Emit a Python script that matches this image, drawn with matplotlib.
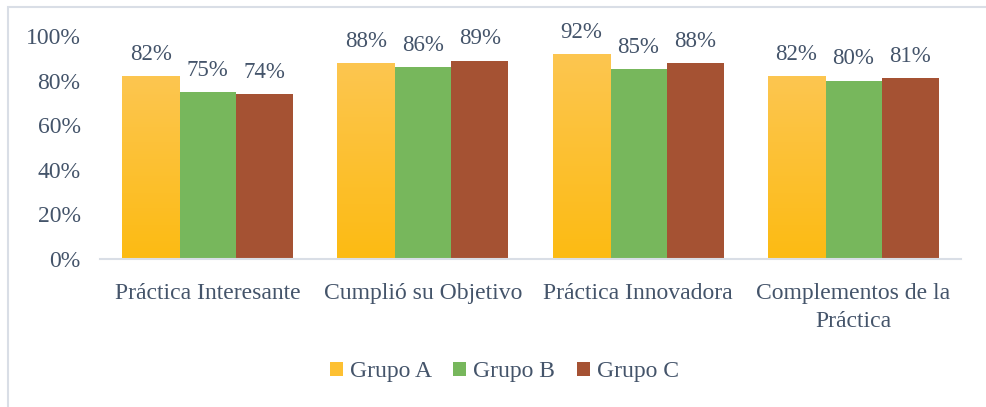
import matplotlib.pyplot as plt
import numpy as np
from matplotlib.colors import LinearSegmentedColormap
from matplotlib.patches import Rectangle

plt.rcParams['font.family'] = ['Liberation Serif', 'DejaVu Serif']

categories = ["Práctica Interesante", "Cumplió su Objetivo", "Práctica Innovadora",
              "Complementos de la\nPráctica"]
grupo_a = [0.82, 0.88, 0.92, 0.82]
grupo_b = [0.75, 0.86, 0.85, 0.80]
grupo_c = [0.74, 0.89, 0.88, 0.81]
series = ["Grupo A", "Grupo B", "Grupo C"]

text_col = "#44546A"
colors = ["#FDC032", "#77B75C", "#A55233"]

fig = plt.figure(figsize=(9.87, 4.07), dpi=100)
ax = fig.add_axes([100 / 987, 148 / 407, 861 / 987, 223 / 407])

# light frame around the chart
fig.patches.append(Rectangle((8 / 987, -0.1), 1.2, (407 - 7) / 407 + 0.1,
                             transform=fig.transFigure, fill=False,
                             edgecolor="#D9DEE6", lw=1.5))

x = np.arange(len(categories))
w = 0.265
grad = LinearSegmentedColormap.from_list("ga", ["#FDBB13", "#FCC650"])

handles = []
for i, (vals, col) in enumerate(zip([grupo_a, grupo_b, grupo_c], colors)):
    bars = ax.bar(x + (i - 1) * w, vals, w, color=col, label=series[i])
    handles.append(bars)
    if i == 0:
        for b in bars:
            x0, y0 = b.get_x(), b.get_y()
            img = ax.imshow(np.linspace(0, 1, 100).reshape(-1, 1), cmap=grad,
                            origin="lower", aspect="auto",
                            extent=[x0, x0 + b.get_width(), y0, y0 + b.get_height()],
                            zorder=2)
            img.set_clip_path(b)
    for b, v in zip(bars, vals):
        ax.text(b.get_x() + b.get_width() / 2, v + 0.05, f"{v:.0%}",
                ha="center", va="bottom", fontsize=16.5, color=text_col)

ax.set_xlim(-0.5, 3.5)
ax.set_ylim(0, 1)
ax.set_yticks(np.arange(0, 1.01, 0.2))
ax.set_yticklabels([f"{t:.0%}" for t in np.arange(0, 1.01, 0.2)])
ax.set_xticks(x)
ax.set_xticklabels(categories, linespacing=1.45)
ax.tick_params(axis="both", length=0, labelsize=17, labelcolor=text_col)
ax.tick_params(axis="y", pad=14)
ax.tick_params(axis="x", pad=17)
for s in ["top", "right", "left"]:
    ax.spines[s].set_visible(False)
ax.spines["bottom"].set_color("#D9DEE6")
ax.spines["bottom"].set_linewidth(1.5)

fig.legend(handles=handles, loc="center", bbox_to_anchor=(0.511, (407 - 372) / 407),
           ncol=3, frameon=False, fontsize=17, labelcolor=text_col,
           handlelength=0.55, handleheight=0.55, handletextpad=0.3, columnspacing=0.9)

fig.savefig("out.png", dpi=100)
